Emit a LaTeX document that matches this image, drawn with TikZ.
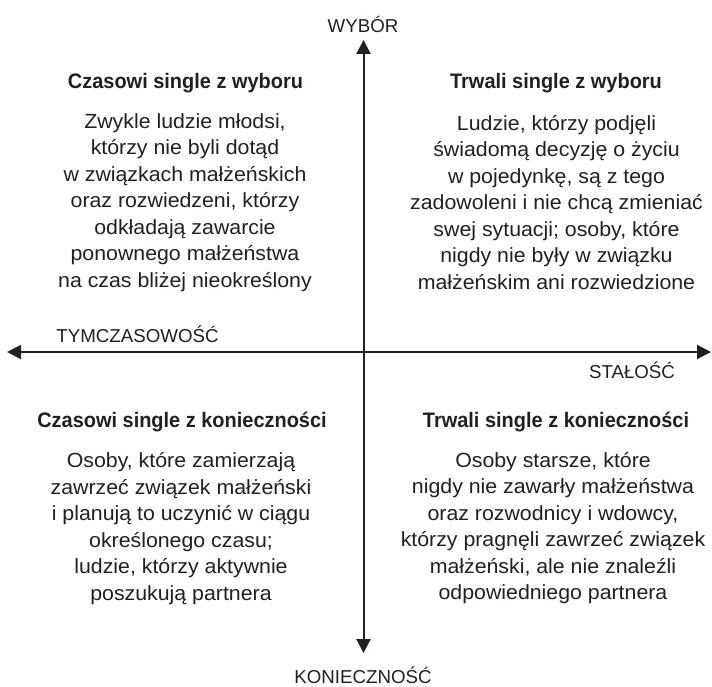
\documentclass[tikz,border=0pt]{standalone}
\usepackage{fontspec}
\setmainfont{Liberation Sans}[FakeStretch=1.04]
\newfontface\titlefont{Liberation Sans Bold}[FakeStretch=0.95]
\newfontface\labelfont{Liberation Sans}
\usetikzlibrary{arrows.meta}
\definecolor{ink}{RGB}{35,31,32}
\begin{document}
\begin{tikzpicture}[x=1bp,y=-1bp,
  axis/.style={line width=2bp,draw=ink,{Triangle[length=14bp,width=14bp]}-{Triangle[length=14bp,width=14bp]}},
  axislabel/.style={text=ink,inner sep=0pt,font=\labelfont\fontsize{18.7bp}{22bp}\selectfont},
  qtitle/.style={text=ink,inner sep=0pt,font=\titlefont\fontsize{21bp}{24bp}\selectfont},
  qbody/.style={text=ink,inner sep=0pt,align=center,font=\fontsize{20.5bp}{26.5bp}\selectfont}]
\useasboundingbox (0,0) rectangle (712,687);
\coordinate (L) at (7,352);
\coordinate (R) at (711,352);
\coordinate (T) at (363.5,40);
\coordinate (B) at (363.5,653);
\draw[axis] (L) -- (R);
\draw[axis] (T) -- (B);
\node[axislabel] (wybor) at (363,24) {WYBÓR};
\node[axislabel] (koniecznosc) at (363,675) {KONIECZNOŚĆ};
\node[axislabel] (tymcz) at (137.5,334) {TYMCZASOWOŚĆ};
\node[axislabel] (stalosc) at (632,370) {STAŁOŚĆ};
\node[qtitle] (t1) at (185.5,83) {Czasowi single z wyboru};
\node[qbody] (b1) at (185,202.5) {Zwykle ludzie młodsi,\\którzy nie byli dotąd\\w związkach małżeńskich\\oraz rozwiedzeni, którzy\\odkładają zawarcie\\ponownego małżeństwa\\na czas bliżej nieokreślony};
\node[qtitle] (t2) at (556,83) {Trwali single z wyboru};
\node[qbody] (b2) at (556.5,202.5) {Ludzie, którzy podjęli\\świadomą decyzję o życiu\\w pojedynkę, są z tego\\zadowoleni i nie chcą zmieniać\\swej sytuacji; osoby, które\\nigdy nie były w związku\\małżeńskim ani rozwiedzione};
\node[qtitle] (t3) at (182,422) {Czasowi single z konieczności};
\node[qbody] (b3) at (181,528.5) {Osoby, które zamierzają\\zawrzeć związek małżeński\\i planują to uczynić w ciągu\\określonego czasu;\\ludzie, którzy aktywnie\\poszukują partnera};
\node[qtitle] (t4) at (556,422) {Trwali single z konieczności};
\node[qbody] (b4) at (553,528) {Osoby starsze, które\\nigdy nie zawarły małżeństwa\\oraz rozwodnicy i wdowcy,\\którzy pragnęli zawrzeć związek\\małżeński, ale nie znaleźli\\odpowiedniego partnera};
\end{tikzpicture}
\end{document}
